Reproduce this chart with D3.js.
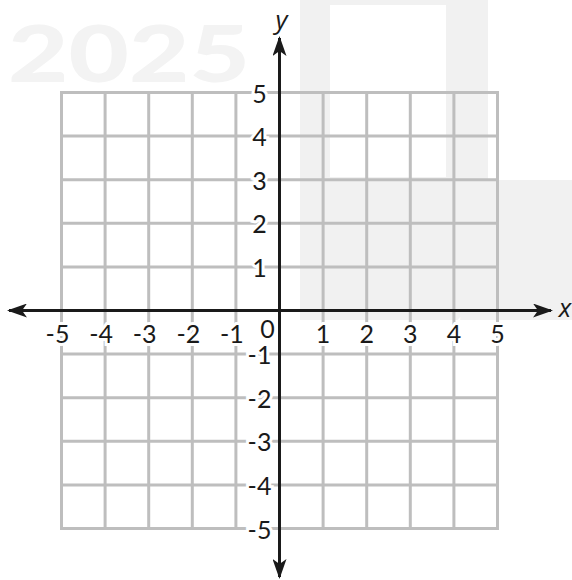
<!DOCTYPE html>
<html>
<head>
<meta charset="utf-8">
<script src="https://cdn.jsdelivr.net/npm/d3@7"></script>
<style>
  body { margin: 0; background: #fff; }
  svg { display: block; }
  .tick-label { font-family: Lato, "Open Sans", sans-serif; font-size: 25px; fill: #1a1a1a; }
  .axis-name { font-family: "Open Sans", sans-serif; font-size: 26px; font-style: italic; fill: #1a1a1a; }
</style>
</head>
<body>
<svg id="graph" width="572" height="580"></svg>
<script>
// grid values and tick labels
var gridValues = [-5, -4, -3, -2, -1, 0, 1, 2, 3, 4, 5];
var xTicks = [-5, -4, -3, -2, -1, 1, 2, 3, 4, 5];
var yTicks = [-5, -4, -3, -2, -1, 1, 2, 3, 4, 5];
var axisNames = ["x", "y"];

var svg = d3.select("#graph");

// scales
var xScale = d3.scaleLinear().domain([-5, 5]).range([61.5, 497.5]),
    yScale = d3.scaleLinear().domain([-5, 5]).range([528.5, 92.5]);

// faint watermark in the background
var wm = svg.append("g").attr("class", "watermark");
wm.append("rect").attr("x", 300).attr("y", 0).attr("width", 188).attr("height", 320).attr("fill", "#f1f1f1");
wm.append("rect").attr("x", 330).attr("y", 5).attr("width", 116).attr("height", 172).attr("fill", "#fff");
wm.append("rect").attr("x", 488).attr("y", 180).attr("width", 84).attr("height", 140).attr("fill", "#f1f1f1");
wm.append("text")
  .attr("x", 8).attr("y", 82)
  .attr("font-family", "Lato, sans-serif")
  .attr("font-weight", 900)
  .attr("font-size", 78)
  .attr("textLength", 242)
  .attr("lengthAdjust", "spacingAndGlyphs")
  .attr("fill", "#f3f3f3")
  .text("2025");

// arrow marker
svg.append("defs").append("marker")
  .attr("id", "arrow")
  .attr("viewBox", "0 0 20 14")
  .attr("refX", 18).attr("refY", 7)
  .attr("markerWidth", 20).attr("markerHeight", 14)
  .attr("markerUnits", "userSpaceOnUse")
  .attr("orient", "auto")
  .append("path")
  .attr("d", "M0,0 L20,7 L0,14 L5,7 Z")
  .attr("fill", "#1a1a1a");

// grid lines
var grid = svg.append("g").attr("stroke", "#bebebe").attr("stroke-width", 3);
grid.selectAll(".v").data(gridValues).enter().append("line")
  .attr("x1", d => xScale(d)).attr("x2", d => xScale(d))
  .attr("y1", yScale(5) - 1.5).attr("y2", yScale(-5) + 1.5);
grid.selectAll(".h").data(gridValues).enter().append("line")
  .attr("y1", d => yScale(d)).attr("y2", d => yScale(d))
  .attr("x1", xScale(-5) - 1.5).attr("x2", xScale(5) + 1.5);

// axes with arrows at both ends
var axes = svg.append("g").attr("stroke", "#1a1a1a").attr("stroke-width", 3);
axes.append("line")
  .attr("x1", xScale(0)).attr("x2", 9)
  .attr("y1", yScale(0)).attr("y2", yScale(0))
  .attr("marker-end", "url(#arrow)");
axes.append("line")
  .attr("x1", xScale(0)).attr("x2", 551)
  .attr("y1", yScale(0)).attr("y2", yScale(0))
  .attr("marker-end", "url(#arrow)");
axes.append("line")
  .attr("x1", xScale(0)).attr("x2", xScale(0))
  .attr("y1", yScale(0)).attr("y2", 38)
  .attr("marker-end", "url(#arrow)");
axes.append("line")
  .attr("x1", xScale(0)).attr("x2", xScale(0))
  .attr("y1", yScale(0)).attr("y2", 577)
  .attr("marker-end", "url(#arrow)");

// tick labels with white halo
function label(g, x, y, txt) {
  g.append("text")
    .attr("class", "tick-label")
    .attr("x", x).attr("y", y)
    .attr("text-anchor", "middle")
    .attr("dominant-baseline", "central")
    .attr("stroke", "#fff").attr("stroke-width", 6)
    .attr("paint-order", "stroke")
    .text(txt);
}

var labels = svg.append("g");
xTicks.forEach(d => label(labels, xScale(d) - (d < 0 ? 4 : 0), yScale(0) + 22, d));
yTicks.forEach(d => label(labels, xScale(0) - 20, yScale(d), d));
label(labels, xScale(0) - 12, yScale(0) + 17, 0);

// redraw y axis above the halos
svg.append("line")
  .attr("stroke", "#1a1a1a").attr("stroke-width", 3)
  .attr("x1", xScale(0)).attr("x2", xScale(0))
  .attr("y1", 45).attr("y2", 570);

// axis names
svg.append("text").attr("class", "axis-name")
  .attr("x", 565).attr("y", yScale(0) + 6)
  .attr("text-anchor", "middle")
  .text(axisNames[0]);
svg.append("text").attr("class", "axis-name")
  .attr("x", xScale(0) + 2).attr("y", 29)
  .attr("text-anchor", "middle")
  .text(axisNames[1]);
</script>
</body>
</html>
